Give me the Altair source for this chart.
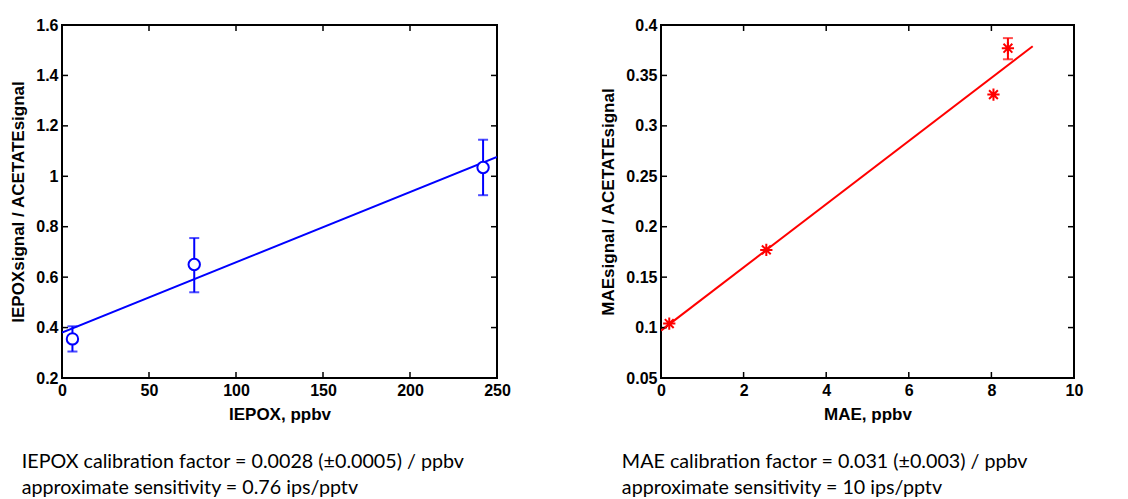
import altair as alt
import pandas as pd

# ---- data ----
iepox_x = [6, 76, 242]
iepox_y = [0.355, 0.65, 1.035]
iepox_lo = [0.305, 0.54, 0.925]
iepox_hi = [0.405, 0.755, 1.145]
iepox_fit_x = [0, 250]
iepox_fit_y = [0.38, 1.077]

mae_x = [0.2, 2.55, 8.05, 8.4]
mae_y = [0.104, 0.177, 0.331, 0.377]
mae_lo = [0.104, 0.177, 0.331, 0.366]
mae_hi = [0.104, 0.177, 0.331, 0.387]
mae_fit_x = [0, 9]
mae_fit_y = [0.097, 0.379]

left_xticks = [0, 50, 100, 150, 200, 250]
left_yticks = [0.2, 0.4, 0.6, 0.8, 1.0, 1.2, 1.4, 1.6]
right_xticks = [0, 2, 4, 6, 8, 10]
right_yticks = [0.05, 0.1, 0.15, 0.2, 0.25, 0.3, 0.35, 0.4]

left_text = ["IEPOX calibration factor = 0.0028 (±0.0005) / ppbv",
             "approximate sensitivity = 0.76 ips/pptv"]
right_text = ["MAE calibration factor = 0.031 (±0.003) / ppbv",
              "approximate sensitivity = 10 ips/pptv"]

H = 353
TL = 6  # tick length (px)


def panel(px, py, lo, hi, fx, fy, xt, yt, xtitle, ytitle, color, marker, W, note, tdx):
    pts = pd.DataFrame({"x": px, "y": py, "lo": lo, "hi": hi})
    fit = pd.DataFrame({"x": fx, "y": fy})
    xs = alt.Scale(domain=[xt[0], xt[-1]], nice=False, zero=False)
    ys = alt.Scale(domain=[yt[0], yt[-1]], nice=False, zero=False)
    xticks = pd.DataFrame({"x": xt})
    yticks = pd.DataFrame({"y": yt})

    line = alt.Chart(fit).mark_line(color=color, strokeWidth=2, clip=True).encode(
        x=alt.X("x:Q", scale=xs, title=xtitle,
                axis=alt.Axis(values=xt, format=".3~g")),
        y=alt.Y("y:Q", scale=ys, title=ytitle,
                axis=alt.Axis(values=yt, format=".3~g")),
    )
    err = alt.Chart(pts).transform_filter("datum.hi > datum.lo").mark_rule(
        color=color, strokeWidth=2).encode(
        x=alt.X("x:Q", scale=xs), y=alt.Y("lo:Q", scale=ys), y2="hi:Q")
    caps = alt.Chart(pts).transform_filter("datum.hi > datum.lo").transform_fold(
        ["lo", "hi"], as_=["k", "v"]).mark_tick(
        color=color, orient="horizontal", size=10, thickness=2).encode(
        x=alt.X("x:Q", scale=xs), y=alt.Y("v:Q", scale=ys))
    if marker == "circle":
        m = alt.Chart(pts).mark_point(shape="circle", size=130, filled=True,
                                      fill="white", stroke=color, strokeWidth=2, opacity=1)
    else:
        m = alt.Chart(pts).mark_point(
            shape="M0,-1L0,1M-1,0L1,0M-0.72,-0.72L0.72,0.72M-0.72,0.72L0.72,-0.72",
            size=150, filled=False, stroke=color, strokeWidth=2, opacity=1)
    m = m.encode(x=alt.X("x:Q", scale=xs), y=alt.Y("y:Q", scale=ys))

    bt = alt.Chart(xticks).mark_rule(color="black", strokeWidth=1.5).encode(
        x=alt.X("x:Q", scale=xs), y=alt.value(H), y2=alt.value(H - TL))
    tt = alt.Chart(xticks).mark_rule(color="black", strokeWidth=1.5).encode(
        x=alt.X("x:Q", scale=xs), y=alt.value(0), y2=alt.value(TL))
    lt = alt.Chart(yticks).mark_rule(color="black", strokeWidth=1.5).encode(
        y=alt.Y("y:Q", scale=ys), x=alt.value(0), x2=alt.value(TL))
    rt = alt.Chart(yticks).mark_rule(color="black", strokeWidth=1.5).encode(
        y=alt.Y("y:Q", scale=ys), x=alt.value(W), x2=alt.value(W - TL))

    return alt.layer(line, bt, tt, lt, rt, err, caps, m).properties(
        width=W, height=H,
        title=alt.TitleParams(text=note, orient="bottom", anchor="start",
                              font="Lato", fontSize=19.7, fontWeight="normal",
                              color="black", offset=30, dx=tdx, lineHeight=26),
    )


left = panel(iepox_x, iepox_y, iepox_lo, iepox_hi, iepox_fit_x, iepox_fit_y,
             left_xticks, left_yticks, "IEPOX, ppbv", "IEPOXsignal / ACETATEsignal",
             "#0000ff", "circle", 435, left_text, 12)
right = panel(mae_x, mae_y, mae_lo, mae_hi, mae_fit_x, mae_fit_y,
              right_xticks, right_yticks, "MAE, ppbv", "MAEsignal / ACETATEsignal",
              "#ff0000", "star", 413, right_text, 22)

chart = alt.hconcat(left, right, spacing=86).properties(
    padding={"left": 0, "top": 8, "right": 5, "bottom": 0}
).configure(background="white").configure_view(
    stroke="black", strokeWidth=2
).configure_axis(
    domain=False, ticks=False, grid=False,
    labelFont="Liberation Sans", labelFontWeight="bold", labelFontSize=16,
    labelColor="black", labelFlush=False, labelPadding=4,
    titleFont="Liberation Sans", titleFontWeight="bold", titleFontSize=17,
    titleColor="black", titlePadding=8,
)

chart.save("out.html", embed_options={"renderer": "svg", "actions": False})
